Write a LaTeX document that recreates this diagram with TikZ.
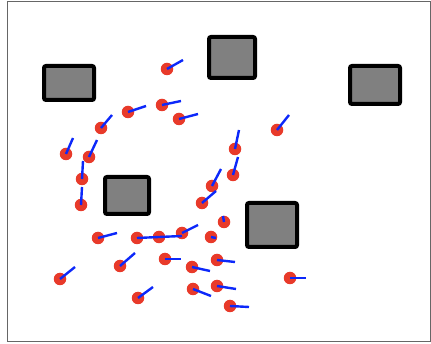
\documentclass[tikz,border=0pt]{standalone}
\usepackage{tikz}

\definecolor{robotred}{RGB}{232,58,42}
\definecolor{headblue}{RGB}{12,40,250}

\begin{document}
\begin{tikzpicture}[
    x=1pt, y=-1pt,
    obstacle/.style={draw=black, line width=4pt, fill=gray, rounded corners=2pt, inner sep=0pt},
    robot/.style={circle, fill=robotred, inner sep=0pt, minimum size=12.5pt},
    heading/.style={draw=headblue, line width=2.4pt}
  ]
  \useasboundingbox (0,0) rectangle (431,344);
  \draw[gray!80!black, line width=1pt] (7,1.5) rectangle (430,342);

  \node[obstacle, minimum width=50pt, minimum height=34pt] (obsA) at (69,83) {};
  \node[obstacle, minimum width=46pt, minimum height=41pt] (obsB) at (232,57.5) {};
  \node[obstacle, minimum width=50pt, minimum height=38pt] (obsC) at (375,85) {};
  \node[obstacle, minimum width=44pt, minimum height=37pt] (obsD) at (127,195.5) {};
  \node[obstacle, minimum width=50pt, minimum height=44pt] (obsE) at (272,225) {};

  \foreach \cx/\cy/\ex/\ey [count=\i] in {
      167/69/183/60, 162/105/181/101, 179/119/198/114, 128/112/146/106,
      101/128/112/115, 66/154/73/138, 89/157/97/140, 82/179/83/161,
      81/205/82/187, 277/130/289/115, 235/149/239/130, 233/175/238/157,
      212/186/221/169, 202/203/216/191, 224/222/223/216, 98/238/117/233,
      137/238/159/237, 159/237/182/236, 182/233/198/225, 211/237/216/238,
      120/266/135/253, 165/259/181/259, 192/267/210/271, 217/260/235/262,
      60/279/75/267, 138/298/153/287, 193/289/211/296, 217/286/236/289,
      230/306/249/307, 290/278/306/278} {
    \node[robot] (r\i) at (\cx,\cy) {};
    \coordinate (h\i) at (\ex,\ey);
  }
  \foreach \i in {1,...,30}
    \draw[heading] (r\i.center) -- (h\i);
\end{tikzpicture}
\end{document}
